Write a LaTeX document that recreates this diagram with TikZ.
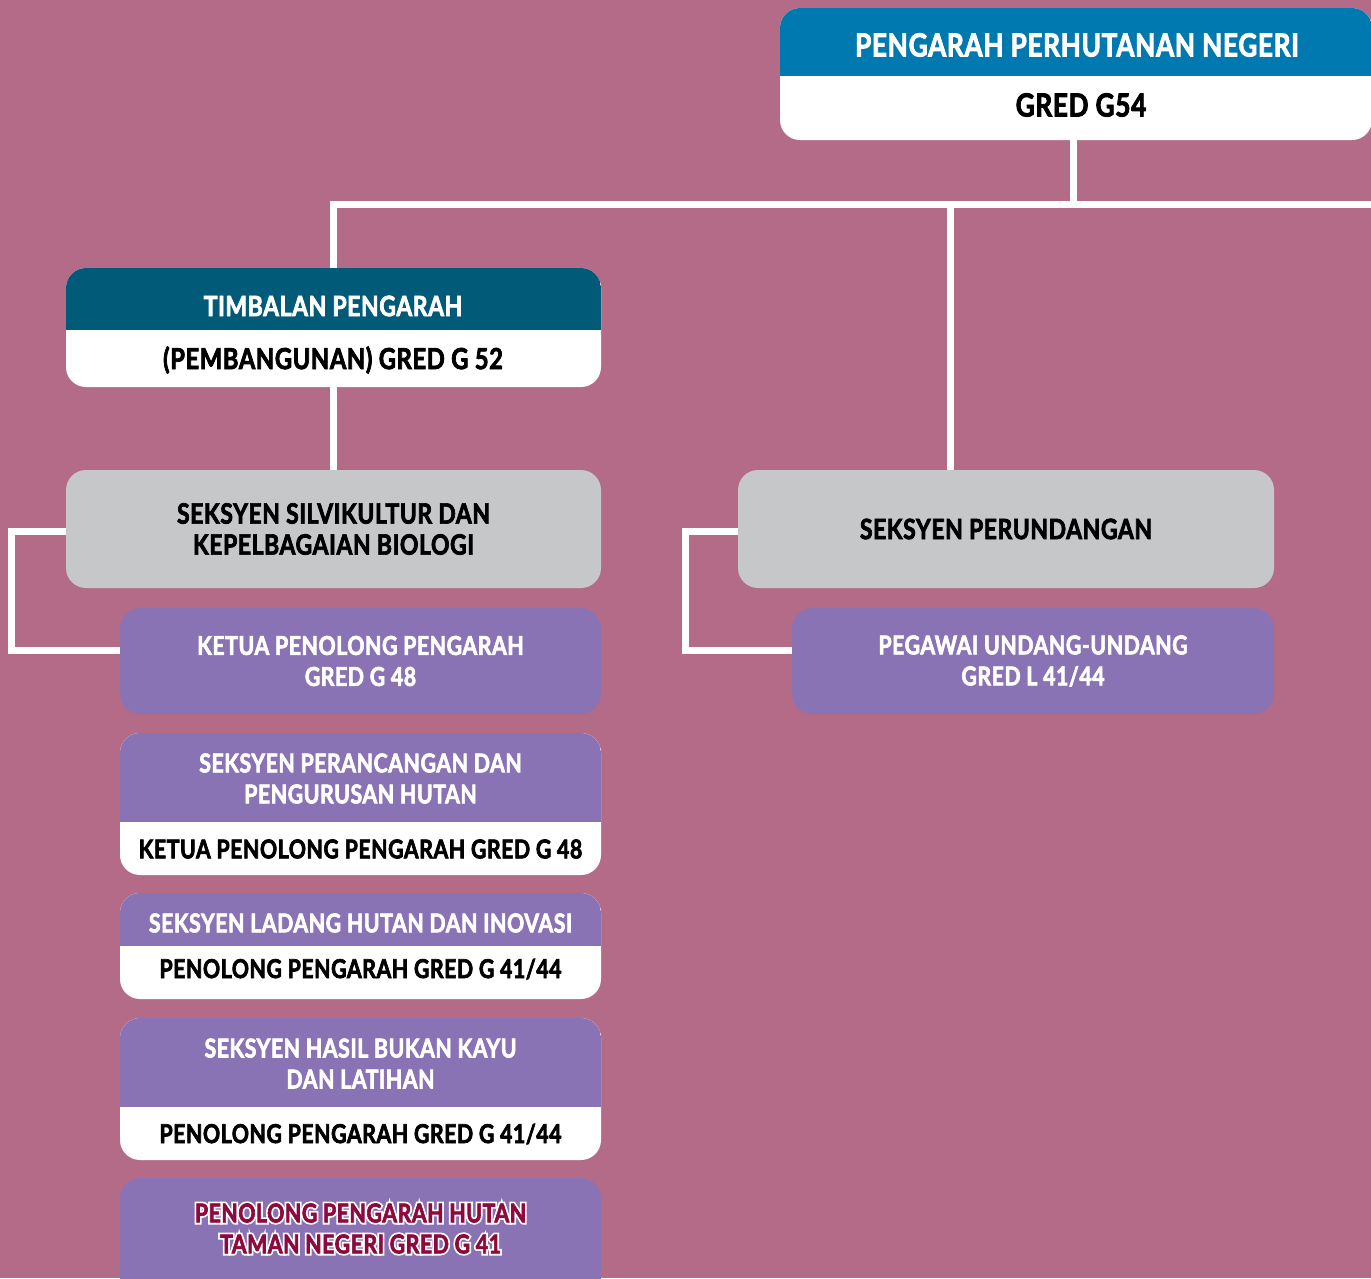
\documentclass[tikz,border=0pt]{standalone}
\usepackage{fontspec}
\setmainfont{Lato}[FakeStretch=0.82, LetterSpace=2, BoldFeatures={FakeBold=2.5}]
\newfontfamily\outlinefont{Lato}[FakeStretch=0.82, LetterSpace=2, BoldFeatures={FakeBold=16}]
\definecolor{bgc}{RGB}{180,107,135}
\definecolor{hblue}{RGB}{0,120,176}
\definecolor{hteal}{RGB}{0,90,120}
\definecolor{greyb}{RGB}{198,199,201}
\definecolor{purp}{RGB}{138,115,180}
\definecolor{dred}{RGB}{140,10,60}
\tikzset{
  box/.style={rectangle, rounded corners=20pt, inner sep=0pt, draw=none, align=center},
  twotone/.style 2 args={box, fill=white, path picture={\fill[#1, sharp corners] (path picture bounding box.north west) rectangle ([yshift=-#2 pt]path picture bounding box.north east);}},
  greybox/.style={box, fill=greyb, text=black},
  purpbox/.style={box, fill=purp, text=white},
  conn/.style={draw=white, line width=7pt},
  fbig/.style={font=\bfseries\fontsize{32}{38}\selectfont},
  fmid/.style={font=\bfseries\fontsize{28}{31}\selectfont},
  fsm/.style={font=\bfseries\fontsize{26}{31}\selectfont},
  hdr/.style={inner sep=0pt, align=center, text=white},
  band/.style={inner sep=0pt, align=center, text=black},
}
\begin{document}
\begin{tikzpicture}[x=1pt,y=-1pt]
\useasboundingbox (0,0) rectangle (1371,1278);
\fill[bgc] (0,0) rectangle (1371,1278);

% top
\node[twotone={hblue}{68}, minimum width=592pt, minimum height=132pt] (top) at (1076,74) {};
\node[hdr, fbig] (toph) at (1077,45) {PENGARAH PERHUTANAN NEGERI};
\node[band, fbig] (topb) at (1081,105) {GRED G54};

% timbalan
\node[twotone={hteal}{62}, minimum width=535pt, minimum height=119pt] (tim) at (333.5,327.5) {};
\node[hdr, fmid] (timh) at (333,306) {TIMBALAN PENGARAH};
\node[band, font=\bfseries\fontsize{29}{31}\selectfont] (timb) at (333,360) {(PEMBANGUNAN) GRED G 52};

% silvikultur
\node[greybox, fmid, minimum width=535pt, minimum height=118pt] (silv) at (333.5,529) {SEKSYEN SILVIKULTUR DAN\\KEPELBAGAIAN BIOLOGI};
\node[purpbox, fsm, minimum width=481pt, minimum height=106pt] (ket) at (360.5,661) {KETUA PENOLONG PENGARAH\\GRED G 48};

% perancangan
\node[twotone={purp}{89}, minimum width=481pt, minimum height=142pt] (pra) at (360.5,804) {};
\node[hdr, fsm] (prah) at (360.5,778.5) {SEKSYEN PERANCANGAN DAN\\PENGURUSAN HUTAN};
\node[band, fsm] (prab) at (360.5,849) {KETUA PENOLONG PENGARAH GRED G 48};

% ladang
\node[twotone={purp}{53}, minimum width=481pt, minimum height=106pt] (lad) at (360.5,946) {};
\node[hdr, fsm] (ladh) at (360.5,923) {SEKSYEN LADANG HUTAN DAN INOVASI};
\node[band, fsm] (ladb) at (360.5,969) {PENOLONG PENGARAH GRED G 41/44};

% hasil
\node[twotone={purp}{89}, minimum width=481pt, minimum height=142pt] (has) at (360.5,1089) {};
\node[hdr, fsm] (hash) at (360.5,1063.5) {SEKSYEN HASIL BUKAN KAYU\\DAN LATIHAN};
\node[band, fsm] (hasb) at (360.5,1134) {PENOLONG PENGARAH GRED G 41/44};

% taman negeri
\node[box, fill=purp, minimum width=481pt, minimum height=120pt] (tam) at (360.5,1238) {};
\node[inner sep=0pt, align=center, text=white, font=\outlinefont\bfseries\fontsize{26}{31}\selectfont] (tamo) at (360.5,1228.5) {PENOLONG PENGARAH HUTAN\\TAMAN NEGERI GRED G 41};
\node[inner sep=0pt, align=center, text=dred, fsm] (tamt) at (360.5,1228.5) {PENOLONG PENGARAH HUTAN\\TAMAN NEGERI GRED G 41};

% perundangan
\node[greybox, fmid, minimum width=536pt, minimum height=118pt] (per) at (1006,529) {SEKSYEN PERUNDANGAN};
\node[purpbox, fsm, minimum width=482pt, minimum height=106pt] (peg) at (1033,661) {PEGAWAI UNDANG-UNDANG\\GRED L 41/44};

% connectors
\coordinate (hr) at (1385,204);
\draw[conn] ([xshift=-3pt]top.south) -- ([xshift=-3pt]top.south |- hr);
\draw[conn] (hr) -- (tim.north |- hr) -- (tim.north);
\draw[conn] ([xshift=-56pt]per.north |- hr) -- ([xshift=-56pt]per.north);
\draw[conn] (tim.south) -- (silv.north);
\draw[conn] ([yshift=-2pt]silv.west) -- ++(-54,0) |- ([yshift=11pt]ket.west);
\draw[conn] ([yshift=-2pt]per.west) -- ++(-52,0) |- ([yshift=11pt]peg.west);
\end{tikzpicture}
\end{document}
